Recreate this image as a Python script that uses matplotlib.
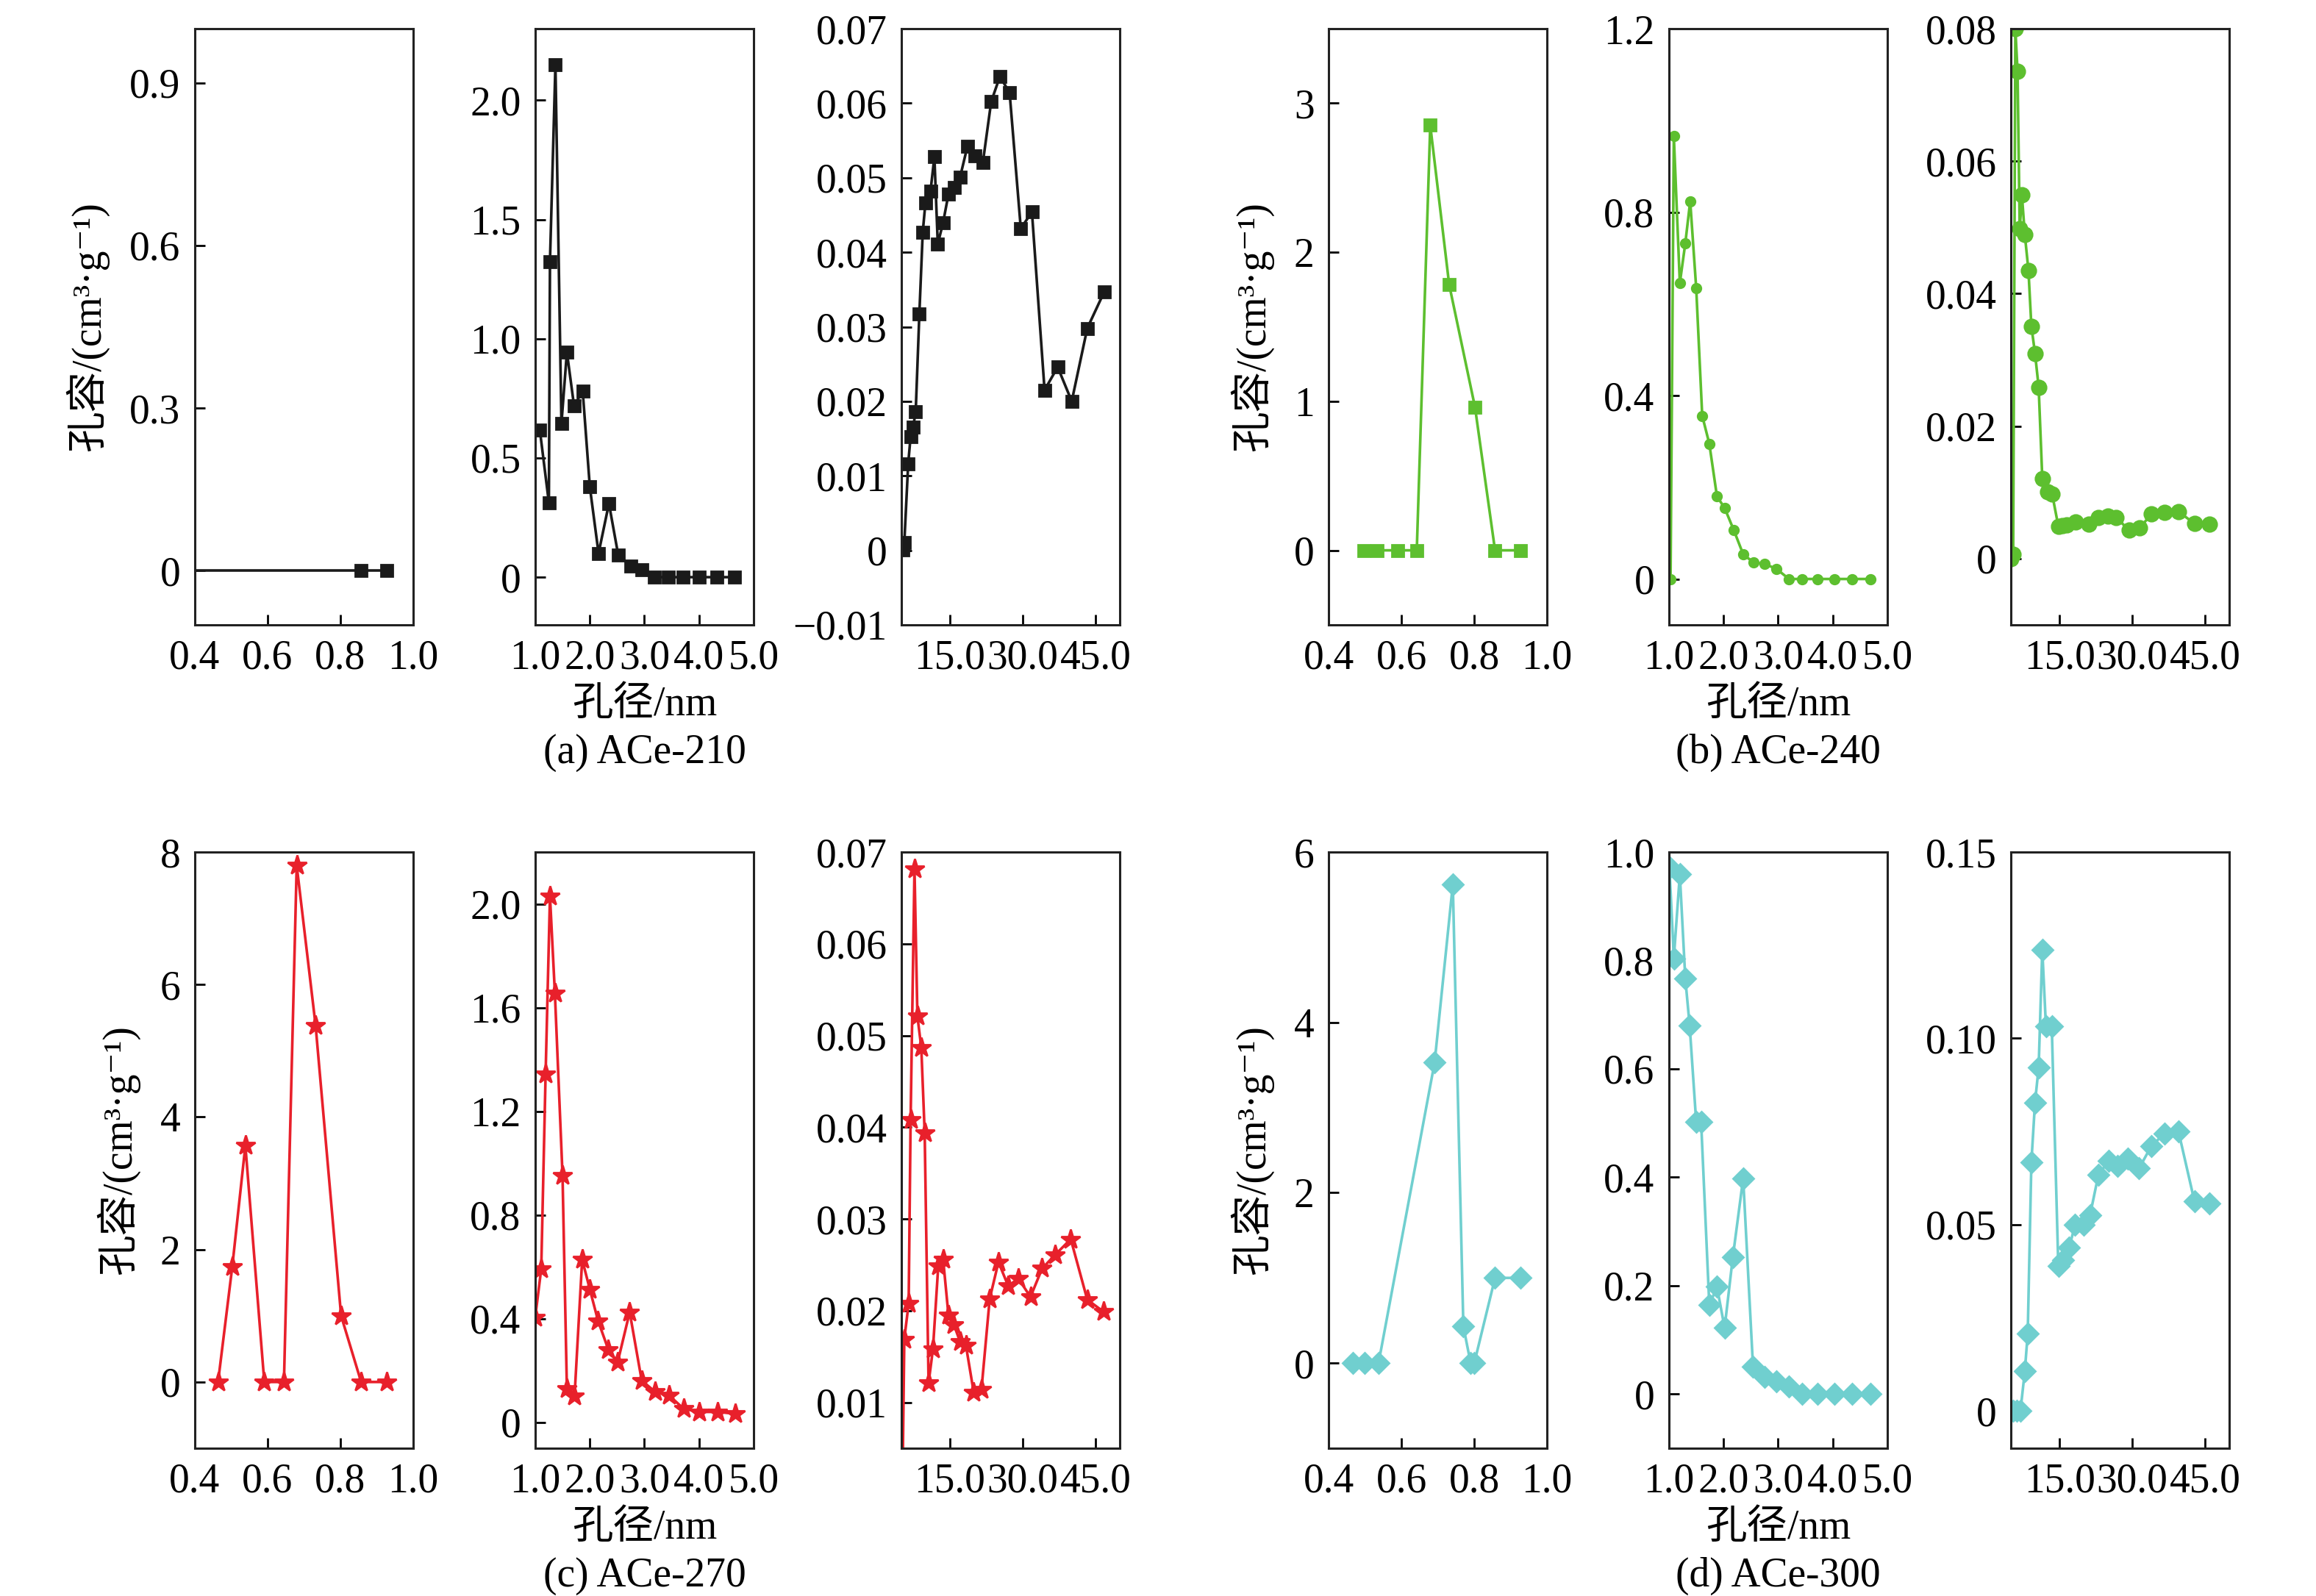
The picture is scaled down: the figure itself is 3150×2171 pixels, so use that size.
import matplotlib
matplotlib.use("Agg")
import matplotlib.pyplot as plt

plt.rcParams['font.family'] = ['Liberation Serif', 'DejaVu Serif', 'Noto Sans CJK SC']
plt.rcParams['axes.unicode_minus'] = True

# ---------------- data ----------------
# (a) ACe-210
a_x1 = [0.36, 0.857, 0.927]
a_y1 = [0.0, 0.0, 0.0]
a_x2 = [1.085, 1.25, 1.27, 1.37, 1.48, 1.58, 1.71, 1.87, 2.00, 2.16, 2.35, 2.52, 2.75, 2.95,
        3.18, 3.44, 3.71, 4.00, 4.33, 4.65]
a_y2 = [0.616, 0.312, 1.324, 2.15, 0.644, 0.944, 0.72, 0.779, 0.379, 0.10, 0.309, 0.093, 0.046, 0.032,
        0.0, 0.0, 0.0, 0.0, 0.0, 0.0]
a_x3 = [5.3, 5.6, 6.4, 6.9, 7.4, 7.95, 8.7, 9.4, 9.95, 11.0, 11.8, 12.5, 13.6, 14.7, 15.9, 17.1,
        18.6, 20.2, 21.8, 23.5, 25.3, 27.3, 29.6, 31.9, 34.5, 37.2, 40.1, 43.3, 46.8]
a_y3 = [0.0001, 0.001, 0.0116, 0.0153, 0.0165, 0.0186, 0.0317, 0.0427, 0.0466, 0.0482, 0.0528,
        0.0411, 0.0440, 0.0478, 0.0487, 0.0501, 0.0542, 0.0529, 0.0521, 0.0602, 0.0636, 0.0614,
        0.0432, 0.0454, 0.0215, 0.0246, 0.0200, 0.0298, 0.0347]

# (b) ACe-240
b_x1 = [0.497, 0.533, 0.590, 0.642, 0.679, 0.731, 0.802, 0.857, 0.927]
b_y1 = [0.0, 0.0, 0.0, 0.0, 2.853, 1.783, 0.96, 0.0, 0.0]
b_x2 = [1.03, 1.09, 1.20, 1.30, 1.39, 1.50, 1.61, 1.74, 1.88, 2.02, 2.19, 2.36, 2.55, 2.75, 2.97,
        3.20, 3.44, 3.72, 4.03, 4.35, 4.69]
b_y2 = [0.0, 0.966, 0.645, 0.732, 0.824, 0.634, 0.356, 0.295, 0.180, 0.155, 0.106, 0.054, 0.036,
        0.033, 0.022, 0.0, 0.0, 0.0, 0.0, 0.0, 0.0]
b_x3 = [5.0, 5.45, 5.9, 6.35, 6.8, 7.25, 7.85, 8.6, 9.2, 9.95, 10.7, 11.45, 12.5, 13.5, 14.75,
        15.6, 16.5, 18.3, 21.0, 23.0, 24.9, 26.7, 29.3, 31.5, 33.9, 36.6, 39.5, 42.8, 45.9]
b_y3 = [0.0, 0.0007, 0.0800, 0.0736, 0.0498, 0.0549, 0.0489, 0.0435, 0.0351, 0.0310, 0.0259,
        0.0121, 0.0101, 0.0097, 0.0049, 0.0050, 0.0051, 0.0055, 0.0052, 0.0062, 0.0064, 0.0062,
        0.0043, 0.0046, 0.0067, 0.0070, 0.0071, 0.0053, 0.0052]

# (c) ACe-270
c_x1 = [0.464, 0.503, 0.539, 0.591, 0.645, 0.680, 0.732, 0.802, 0.857, 0.927]
c_y1 = [0.0, 1.74, 3.57, 0.0, 0.0, 7.80, 5.38, 1.0, 0.0, 0.0]
c_x2 = [1.0, 1.11, 1.19, 1.27, 1.36, 1.50, 1.58, 1.72, 1.86, 2.00, 2.15, 2.34, 2.51, 2.73, 2.95,
        3.19, 3.45, 3.72, 4.01, 4.34, 4.66]
c_y2 = [0.405, 0.592, 1.343, 2.031, 1.656, 0.953, 0.129, 0.100, 0.628, 0.513, 0.392, 0.280, 0.232,
        0.425, 0.161, 0.119, 0.104, 0.052, 0.040, 0.040, 0.033]
c_x3 = [5.2, 5.6, 6.5, 6.9, 7.7, 8.3, 9.1, 9.8, 10.6, 11.5, 12.6, 13.6, 14.7, 15.8, 17.1, 18.3,
        19.9, 21.5, 23.2, 25.0, 27.0, 29.1, 31.6, 34.0, 36.7, 39.9, 43.3, 46.6]
c_y3 = [0.0, 0.0169, 0.0208, 0.0408, 0.0682, 0.0521, 0.0487, 0.0394, 0.0121, 0.0158, 0.0249,
        0.0256, 0.0195, 0.0185, 0.0166, 0.0162, 0.0111, 0.0114, 0.0213, 0.0253, 0.0227, 0.0235,
        0.0215, 0.0246, 0.0261, 0.0278, 0.0212, 0.0199]

# (d) ACe-300
d_x1 = [0.467, 0.499, 0.537, 0.691, 0.741, 0.770, 0.790, 0.800, 0.857, 0.927]
d_y1 = [0.0, 0.0, 0.0, 3.53, 5.62, 0.43, 0.0, 0.0, 1.0, 1.0]
d_x2 = [1.01, 1.09, 1.20, 1.30, 1.38, 1.50, 1.59, 1.74, 1.88, 2.02, 2.17, 2.36, 2.54, 2.75, 2.97,
        3.20, 3.44, 3.72, 4.03, 4.35, 4.69]
d_y2 = [0.971, 0.804, 0.959, 0.767, 0.680, 0.502, 0.502, 0.164, 0.198, 0.122, 0.252, 0.398, 0.051,
        0.032, 0.023, 0.014, 0.0, 0.0, 0.0, 0.0, 0.0]
d_x3 = [5.45, 6.2, 6.95, 7.85, 8.45, 9.2, 9.95, 10.7, 11.45, 12.2, 13.4, 14.75, 15.8, 17.0, 18.2,
        20.0, 21.3, 23.0, 25.1, 27.0, 29.0, 31.4, 33.9, 36.6, 39.5, 42.8, 45.9]
d_y3 = [0.0, 0.0, 0.0, 0.0107, 0.0208, 0.0667, 0.0828, 0.0922, 0.1238, 0.1033, 0.1033, 0.0389,
        0.0405, 0.0439, 0.0499, 0.0499, 0.0526, 0.0633, 0.0671, 0.0657, 0.0677, 0.0651, 0.0711,
        0.0744, 0.0751, 0.0563, 0.0557]

captions = ['(a) ACe-210', '(b) ACe-240', '(c) ACe-270', '(d) ACe-300']
colors = ['#1a1a1a', '#5dbf2f', '#e8202b', '#70cfcf']

# x axis settings shared by the three sub-ranges
x_lims = [(0.4, 1.0), (1.0, 5.0), (5.0, 50.0)]
x_ticks = [[0.4, 0.6, 0.8, 1.0], [1.0, 2.0, 3.0, 4.0, 5.0], [15.0, 30.0, 45.0]]
x_dec = [1, 1, 1]

# y axis settings per panel
y_lims = [[(-0.1, 1.0), (-0.2, 2.3), (-0.01, 0.07)],
          [(-0.5, 3.5), (-0.1, 1.2), (-0.01, 0.08)],
          [(-1.0, 8.0), (-0.1, 2.2), (0.005, 0.07)],
          [(-1.0, 6.0), (-0.1, 1.0), (-0.01, 0.15)]]
y_ticks = [[[0, 0.3, 0.6, 0.9], [0, 0.5, 1.0, 1.5, 2.0], [-0.01, 0, 0.01, 0.02, 0.03, 0.04, 0.05, 0.06, 0.07]],
           [[0, 1, 2, 3], [0, 0.4, 0.8, 1.2], [0, 0.02, 0.04, 0.06, 0.08]],
           [[0, 2, 4, 6, 8], [0, 0.4, 0.8, 1.2, 1.6, 2.0], [0.01, 0.02, 0.03, 0.04, 0.05, 0.06, 0.07]],
           [[0, 2, 4, 6], [0, 0.2, 0.4, 0.6, 0.8, 1.0], [0, 0.05, 0.10, 0.15]]]
y_dec = [[1, 1, 2], [0, 1, 2], [0, 1, 2], [0, 1, 2]]

series = [[(a_x1, a_y1), (a_x2, a_y2), (a_x3, a_y3)],
          [(b_x1, b_y1), (b_x2, b_y2), (b_x3, b_y3)],
          [(c_x1, c_y1), (c_x2, c_y2), (c_x3, c_y3)],
          [(d_x1, d_y1), (d_x2, d_y2), (d_x3, d_y3)]]

# marker style per panel and sub-axes
markers = [[('s', 6), ('s', 6), ('s', 6)],
           [('s', 6), ('o', 4.5), ('o', 7)],
           [('*', 10), ('*', 10), ('*', 10)],
           [('D', 7), ('D', 7), ('D', 7)]]


def fmt(v, dec):
    if abs(v) < 1e-12:
        return '0'
    return f"{v:.{dec}f}".replace('-', '\u2212')


FS = 20
fig = plt.figure(figsize=(15.75, 10.855), dpi=200)

lefts = [[0.0841, 0.2311, 0.3892], [0.5737, 0.7206, 0.8683]]
W = 0.0943
bottoms = [0.6085, 0.0926]
H = 0.3735
ylab_fonts = ['Liberation Serif', 'Noto Sans CJK SC', 'DejaVu Serif']

for p in range(4):
    row, col = p // 2, p % 2
    for k in range(3):
        ax = fig.add_axes([lefts[col][k], bottoms[row], W, H])
        xs, ys = series[p][k]
        mk, ms = markers[p][k]
        ax.plot(xs, ys, color=colors[p], lw=1.3, marker=mk, ms=ms,
                markeredgecolor=colors[p], markerfacecolor=colors[p])
        ax.set_xlim(*x_lims[k])
        ax.set_ylim(*y_lims[p][k])
        ax.set_xticks(x_ticks[k])
        ax.set_xticklabels([fmt(v, x_dec[k]) for v in x_ticks[k]])
        ax.set_yticks(y_ticks[p][k])
        ax.set_yticklabels([fmt(v, y_dec[p][k]) for v in y_ticks[p][k]])
        ax.tick_params(direction='in', length=5, width=1.0, labelsize=FS, pad=7,
                       top=False, right=False)
        for s in ax.spines.values():
            s.set_linewidth(1.1)
            s.set_color('#222222')
        if k == 0:
            ax.set_ylabel('孔容/(cm\u00b3\u00b7g\u207b\u00b9)', fontsize=FS, labelpad=10,
                          family=ylab_fonts)
        if k == 1:
            xc = lefts[col][k] + W / 2
            fig.text(xc, bottoms[row] - 0.050, '孔径/nm', ha='center', va='center', fontsize=FS,
                     family=ylab_fonts)
            fig.text(xc, bottoms[row] - 0.080, captions[p], ha='center', va='center', fontsize=FS)

fig.savefig('out.png', dpi=200)
